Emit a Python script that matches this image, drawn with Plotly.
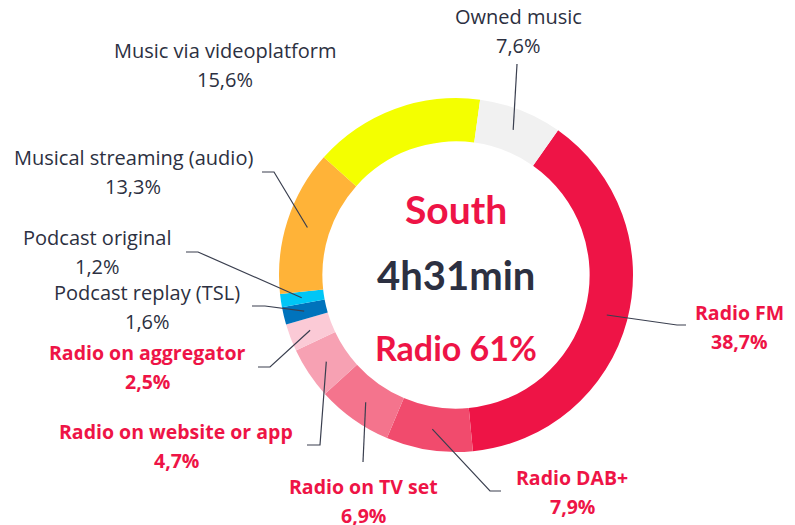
import math
import plotly.graph_objects as go

# Listening share, clockwise from Radio FM
labels = ["Radio FM", "Radio DAB+", "Radio on TV set", "Radio on website or app",
          "Radio on aggregator", "Podcast replay (TSL)", "Podcast original",
          "Musical streaming (audio)", "Music via videoplatform", "Owned music"]
values = [38.7, 7.9, 6.9, 4.7, 2.5, 1.6, 1.2, 13.3, 15.6, 7.6]
is_radio = [True] * 5 + [False] * 5
colors = ["#EE1446", "#F14B6D", "#F4748D", "#F7A1B3", "#FBCAD6",
          "#0073BC", "#00C6F6", "#FFB338", "#F4FF00", "#F1F1F1"]

region = "South"
total_time = "4h31min"
radio_share = "Radio 61%"

RED = "#EE1446"
DARK = "#2C3041"
W, H = 795, 525
OFF = 8  # page body margin, so axis units below are screenshot pixels
CX, CY, R = 456, 275, 177
ROT = 35.2

# label placement (pixels): text centre of first line, elbow of leader line, end of leader line
label_pos = [(739, 312), (572, 477), (363, 486), (176, 431), (147, 352),
             (147, 292), (97, 237), (133, 157), (225, 50), (518, 16)]
elbows = [(677, 325), (490, 491), (363, 462), (320, 445), (270, 367),
          (265, 306), (198, 252), (274, 172), None, (517, 64)]
ends = [(686, 325), (501, 491), None, (307, 445), (258, 367),
        (252, 306), (186, 252), (262, 172), None, None]

fig = go.Figure()
fig.add_trace(go.Pie(
    labels=labels, values=values, sort=False, direction="clockwise",
    rotation=ROT, hole=0.755, textinfo="none", hoverinfo="label+percent",
    marker=dict(colors=colors, line=dict(width=0)), showlegend=False,
    domain=dict(x=[(CX - OFF - R) / W, (CX - OFF + R) / W],
                y=[(H - CY + OFF - R) / H, (H - CY + OFF + R) / H]),
))

fmt = lambda v: f"{v:.1f}%".replace(".", ",")

shapes = []
annotations = []
cum = 0
total = sum(values)
for i, lab in enumerate(labels):
    mid = ROT + (cum + values[i] / 2) / total * 360
    cum += values[i]
    a = math.radians(mid)
    ax = CX + 156 * math.sin(a)
    ay = CY - 156 * math.cos(a)
    if elbows[i] is not None:
        pts = [(ax, ay), elbows[i]] + ([ends[i]] if ends[i] else [])
        path = "M " + " L ".join(f"{x:.1f},{y:.1f}" for x, y in pts)
        shapes.append(dict(type="path", path=path, xref="x", yref="y",
                           line=dict(color="#3A3F4F", width=1.2), layer="above"))
    col = RED if is_radio[i] else DARK
    wt = "bold" if is_radio[i] else "normal"
    size = 19.5 if is_radio[i] else 20
    tx, ty = label_pos[i]
    for k, txt in enumerate([lab, fmt(values[i])]):
        annotations.append(dict(
            x=tx, y=ty + 29 * k, xref="x", yref="y", showarrow=False,
            text=txt, align="center",
            font=dict(family="Open Sans", size=size, color=col, weight=wt),
        ))

for txt, y, col, size in [(region, 209, RED, 39), (total_time, 275, DARK, 40),
                          (radio_share, 347, RED, 34)]:
    annotations.append(dict(x=CX, y=y, xref="x", yref="y", showarrow=False, text=txt,
                            font=dict(family="Lato", size=size, color=col, weight="bold")))

fig.update_layout(
    width=W, height=H, margin=dict(l=0, r=0, t=0, b=0),
    paper_bgcolor="white", plot_bgcolor="rgba(0,0,0,0)",
    xaxis=dict(range=[OFF, W + OFF], visible=False, fixedrange=True),
    yaxis=dict(range=[H + OFF, OFF], visible=False, fixedrange=True),
    shapes=shapes, annotations=annotations,
)
fig.write_html("out.html")
